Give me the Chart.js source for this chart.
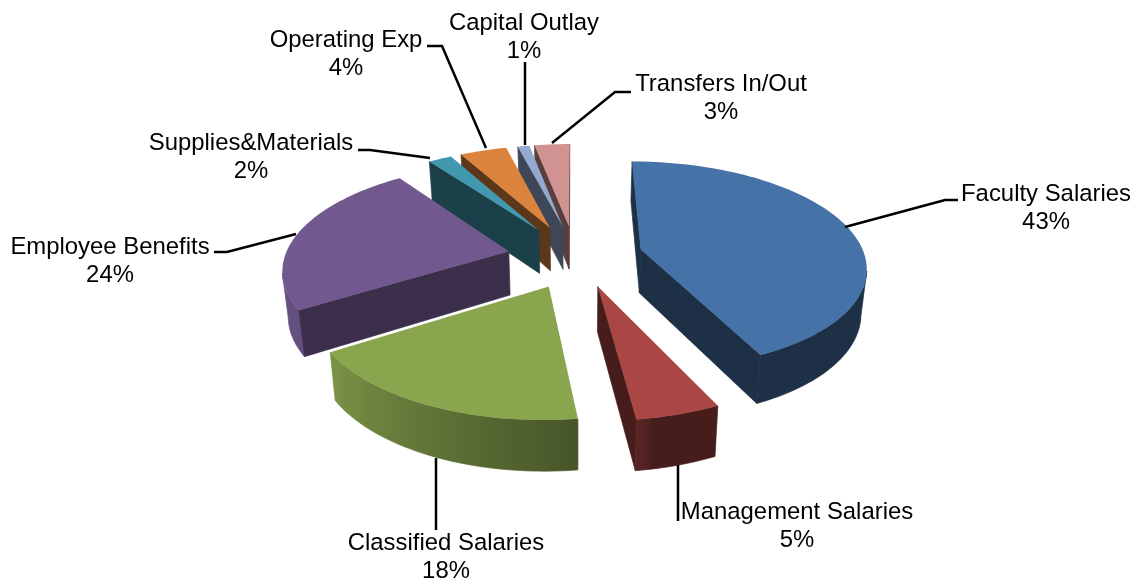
<!DOCTYPE html>
<html><head><meta charset="utf-8">
<style>html,body{margin:0;padding:0;background:#fff}#w{width:1138px;height:579px}</style>
<script src="https://cdn.jsdelivr.net/npm/chart.js@4"></script></head>
<body><div id="w"><canvas id="c" width="1138" height="579"></canvas></div>
<script>
const categories = ['Faculty Salaries','Management Salaries','Classified Salaries','Employee Benefits','Supplies&Materials','Operating Exp','Capital Outlay','Transfers In/Out'];
const values = [43,5,18,24,2,4,1,3];
const colors = ['#4572a7','#aa4643','#89a54e','#71588f','#4198af','#db843d','#93a9cf','#d19392'];

// view of the tilted pie
const CX=574, CY=256, KY=0.46, PERSP=0.00068, R=224, DEPTH=44, SHRINK=0.98;
const nudges = [[1,0],[4,-1],[5,1],[1,1],[0,0],[0,0],[3,0],[1,0]];
// label layout: centre x, first line y, leader polyline
const labelLayout = [
 [1046,194,[[845,227],[945,200],[958,200]]],
 [797,512,[[678,465],[678,521]]],
 [446,543,[[436,458],[436,530]]],
 [110,247,[[296,234],[227,252],[214,252]]],
 [251,143,[[430,158],[370,150],[358,150]]],
 [346,40,[[486,148],[442,46],[427,46]]],
 [524,23,[[525,145],[525,62]]],
 [721,84,[[552,143],[615,92],[631,92]]]
];

function shade(hex,f){
  const n=parseInt(hex.slice(1),16);
  const c=[n>>16&255,n>>8&255,n&255].map(v=>Math.round(v*f));
  return `rgb(${c[0]},${c[1]},${c[2]})`;
}
function rimFactor(deg){
  if(deg<170) return 0.42;
  const t=Math.min(1,(deg-170)/68);
  return 0.5+0.4*t;
}
function project(fx,fy,n){
  const s=1/(1-PERSP*fy);
  return {x:CX+fx*s+n[0], y:CY+fy*KY*s+n[1], s};
}
function lower(p,n){
  return {x:CX+(p.x-n[0]-CX)*SHRINK+n[0], y:p.y+DEPTH*Math.pow(p.s,0.7), s:p.s};
}
function fillPoly(ctx,pts,col,edge){
  ctx.beginPath();pts.forEach((q,j)=>j?ctx.lineTo(q.x,q.y):ctx.moveTo(q.x,q.y));ctx.closePath();
  ctx.fillStyle=col;ctx.fill();
  if(edge){ctx.strokeStyle=col;ctx.lineWidth=0.7;ctx.stroke();}
}
const pie3d={
  id:'pie3d',
  beforeDatasetDraw(chart,args){
    const ctx=chart.ctx, arcs=chart.getDatasetMeta(args.index).data;
    const items=arcs.map((arc,i)=>{
      const p=arc.getProps(['startAngle','endAngle','outerRadius'],true);
      const off=arc.options.offset, u=R/p.outerRadius, mid=(p.startAngle+p.endAngle)/2;
      const ax=Math.cos(mid)*off, ay=Math.sin(mid)*off, n=nudges[i];
      const outline=[], steps=Math.max(3,Math.ceil((p.endAngle-p.startAngle)/0.03));
      for(let k=0;k<=steps;k++){
        const a=p.startAngle+(p.endAngle-p.startAngle)*k/steps;
        outline.push({pt:project(ax+Math.cos(a)*p.outerRadius*u,ay+Math.sin(a)*p.outerRadius*u,n),deg:(a+Math.PI/2)*180/Math.PI});
      }
      return {i,n,apex:project(ax,ay,n),outline};
    }).sort((a,b)=>a.apex.y-b.apex.y);
    items.forEach(it=>{
      const col=colors[it.i], pts=it.outline.map(o=>o.pt), n=it.n;
      const wallF=it.i===3?0.53:0.42;
      const wall=(a,b)=>{ if(b.x<a.x) fillPoly(ctx,[a,b,lower(b,n),lower(a,n)],shade(col,wallF),true); };
      wall(pts[pts.length-1],it.apex);
      // visible part of the rim, one polygon with a left-to-right shading
      const run=it.outline.filter((o,k)=>(k>0&&o.pt.x<it.outline[k-1].pt.x)||(k<it.outline.length-1&&it.outline[k+1].pt.x<o.pt.x));
      if(run.length>1){
        const rp=run.map(o=>o.pt), lp=rp.map(q=>lower(q,n));
        const poly=rp.concat(lp.slice().reverse());
        const x0=Math.min(...poly.map(q=>q.x)), x1=Math.max(...poly.map(q=>q.x));
        const g=ctx.createLinearGradient(x0,0,x1,0);
        run.forEach(o=>g.addColorStop(Math.min(1,Math.max(0,(o.pt.x-x0)/(x1-x0))),shade(col,rimFactor(o.deg))));
        fillPoly(ctx,poly,g,true);
      }
      wall(it.apex,pts[0]);
      fillPoly(ctx,[it.apex].concat(pts),col);
    });
    return false;
  },
  afterDatasetsDraw(chart){
    const ctx=chart.ctx;
    ctx.save();
    ctx.strokeStyle='#000';ctx.lineWidth=2.5;ctx.lineJoin='miter';
    labelLayout.forEach(l=>{
      ctx.beginPath();l[2].forEach((q,j)=>j?ctx.lineTo(q[0],q[1]):ctx.moveTo(q[0],q[1]));ctx.stroke();
    });
    ctx.fillStyle='#000';ctx.font='23.9px "Liberation Sans", Arial, sans-serif';ctx.textAlign='center';ctx.textBaseline='middle';
    labelLayout.forEach((l,i)=>{
      ctx.fillText(categories[i],l[0],l[1]);
      ctx.fillText(values[i]+'%',l[0],l[1]+28);
    });
    ctx.restore();
  }
};
new Chart(document.getElementById('c'),{
  type:'pie',
  data:{labels:categories,datasets:[{data:values,backgroundColor:colors,offset:68,borderWidth:0}]},
  options:{responsive:false,animation:false,rotation:0,
    plugins:{legend:{display:false},tooltip:{enabled:false}}},
  plugins:[pie3d]
});
</script></body></html>
